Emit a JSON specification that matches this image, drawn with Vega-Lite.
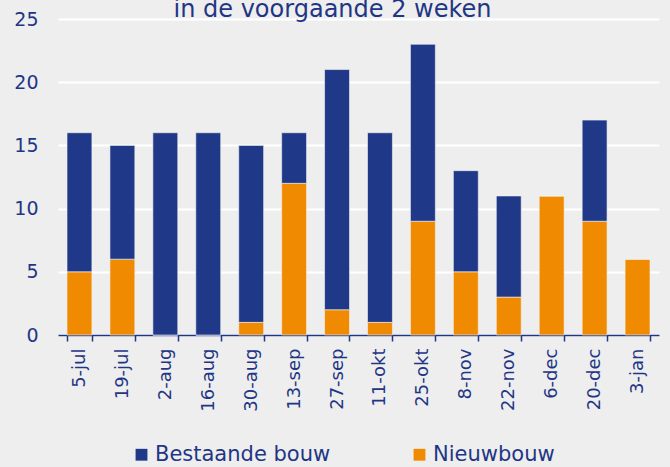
{
  "$schema": "https://vega.github.io/schema/vega-lite/v6.json",
  "width": 601,
  "height": 316,
  "autosize": {"type": "none"},
  "padding": {"left": 58, "top": 19, "right": 11, "bottom": 132},
  "background": "#eeeeee",
  "title": {
    "text": "in de voorgaande 2 weken",
    "font": "DejaVu Sans",
    "fontSize": 24,
    "fontWeight": "normal",
    "color": "#1f3685",
    "anchor": "middle",
    "frame": "group",
    "baseline": "alphabetic",
    "offset": 4,
    "dy": 35,
    "dx": -26
  },
  "data": {
    "values": [
      {"datum": "5-jul", "type": "Nieuwbouw", "aantal": 5},
      {"datum": "5-jul", "type": "Bestaande bouw", "aantal": 11},
      {"datum": "19-jul", "type": "Nieuwbouw", "aantal": 6},
      {"datum": "19-jul", "type": "Bestaande bouw", "aantal": 9},
      {"datum": "2-aug", "type": "Nieuwbouw", "aantal": 0},
      {"datum": "2-aug", "type": "Bestaande bouw", "aantal": 16},
      {"datum": "16-aug", "type": "Nieuwbouw", "aantal": 0},
      {"datum": "16-aug", "type": "Bestaande bouw", "aantal": 16},
      {"datum": "30-aug", "type": "Nieuwbouw", "aantal": 1},
      {"datum": "30-aug", "type": "Bestaande bouw", "aantal": 14},
      {"datum": "13-sep", "type": "Nieuwbouw", "aantal": 12},
      {"datum": "13-sep", "type": "Bestaande bouw", "aantal": 4},
      {"datum": "27-sep", "type": "Nieuwbouw", "aantal": 2},
      {"datum": "27-sep", "type": "Bestaande bouw", "aantal": 19},
      {"datum": "11-okt", "type": "Nieuwbouw", "aantal": 1},
      {"datum": "11-okt", "type": "Bestaande bouw", "aantal": 15},
      {"datum": "25-okt", "type": "Nieuwbouw", "aantal": 9},
      {"datum": "25-okt", "type": "Bestaande bouw", "aantal": 14},
      {"datum": "8-nov", "type": "Nieuwbouw", "aantal": 5},
      {"datum": "8-nov", "type": "Bestaande bouw", "aantal": 8},
      {"datum": "22-nov", "type": "Nieuwbouw", "aantal": 3},
      {"datum": "22-nov", "type": "Bestaande bouw", "aantal": 8},
      {"datum": "6-dec", "type": "Nieuwbouw", "aantal": 11},
      {"datum": "6-dec", "type": "Bestaande bouw", "aantal": 0},
      {"datum": "20-dec", "type": "Nieuwbouw", "aantal": 9},
      {"datum": "20-dec", "type": "Bestaande bouw", "aantal": 8},
      {"datum": "3-jan", "type": "Nieuwbouw", "aantal": 6},
      {"datum": "3-jan", "type": "Bestaande bouw", "aantal": 0}
    ]
  },
  "mark": {"type": "bar", "stroke": "#f4f4f4", "strokeWidth": 0.6},
  "encoding": {
    "x": {
      "field": "datum",
      "type": "nominal",
      "sort": null,
      "scale": {"paddingInner": 0.42, "paddingOuter": 0.21},
      "axis": {
        "title": null,
        "labelAngle": -90,
        "labelFont": "DejaVu Sans",
        "labelFontSize": 18,
        "labelColor": "#1f3685",
        "labelPadding": 7,
        "domainColor": "#1f3685",
        "domainWidth": 1.5,
        "tickColor": "#1f3685",
        "tickWidth": 1.5,
        "tickSize": 6,
        "tickBand": "extent",
        "grid": false
      }
    },
    "y": {
      "field": "aantal",
      "type": "quantitative",
      "stack": "zero",
      "scale": {"domain": [0, 25], "nice": false},
      "axis": {
        "title": null,
        "values": [0, 5, 10, 15, 20, 25],
        "labelFont": "DejaVu Sans",
        "labelFontSize": 19,
        "labelColor": "#1f3685",
        "labelPadding": 20,
        "domain": false,
        "ticks": false,
        "grid": true,
        "gridColor": "#ffffff",
        "gridWidth": 2
      }
    },
    "color": {
      "field": "type",
      "type": "nominal",
      "scale": {"domain": ["Bestaande bouw", "Nieuwbouw"], "range": ["#1f3887", "#f08a00"]},
      "legend": {
        "title": null,
        "orient": "none",
        "legendX": 73,
        "legendY": 425,
        "direction": "horizontal",
        "columns": 2,
        "columnPadding": 78,
        "symbolType": "square",
        "symbolSize": 140,
        "symbolStrokeWidth": 0,
        "labelFont": "DejaVu Sans",
        "labelFontSize": 21,
        "labelColor": "#1f3685",
        "labelOffset": 3,
        "labelLimit": 300
      }
    },
    "order": {"field": "type", "sort": "descending"}
  },
  "config": {"view": {"stroke": null}}
}
